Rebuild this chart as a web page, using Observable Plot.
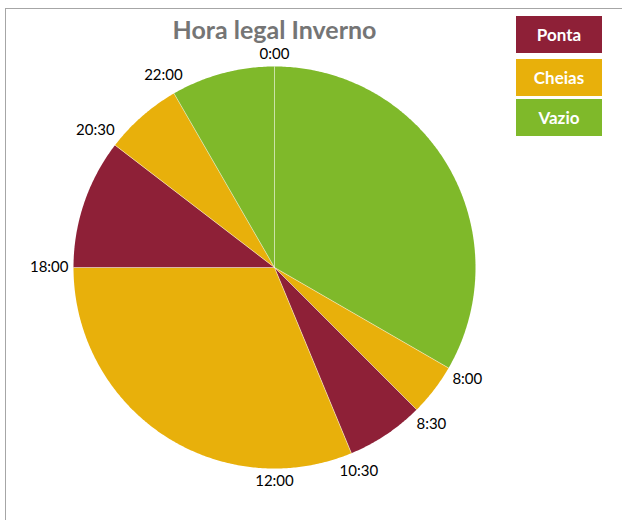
<!DOCTYPE html>
<html><head><meta charset="utf-8">
<script src="https://cdn.jsdelivr.net/npm/d3@7"></script>
<script src="https://cdn.jsdelivr.net/npm/@observablehq/plot@0.6"></script>
<style>
body{margin:0;background:#fff;}
#wrap{position:relative;width:622px;height:520px;overflow:hidden;font-family:Lato,"Open Sans",sans-serif;}
#wrap svg{position:absolute;left:0;top:0;}
.frameTop{position:absolute;left:5px;top:8px;width:617px;height:1px;background:#a6a6a6;}
.frameLeft{position:absolute;left:5px;top:8px;width:1px;height:512px;background:#a6a6a6;}
#title{position:absolute;left:0;width:549px;top:17px;line-height:25px;text-align:center;font-weight:bold;font-size:25px;color:#757575;white-space:nowrap;}
.leg{position:absolute;left:516px;width:86px;height:37px;line-height:37px;text-align:center;color:#fff;font-weight:bold;font-size:17px;}
</style>
</head><body>
<div id="wrap"><div class="frameTop"></div><div class="frameLeft"></div><div id="title">Hora legal Inverno</div></div>
<script>
const title = "Hora legal Inverno";
const categories = ["Ponta", "Cheias", "Vazio"];
const categoryColors = ["#8E2037", "#E8B00B", "#7FB92A"];
const sliceStart = [0, 8, 9, 10.5, 18, 20.5, 22];
const sliceEnd = [8, 9, 10.5, 18, 20.5, 22, 24];
const sliceCategory = ["Vazio", "Cheias", "Ponta", "Cheias", "Ponta", "Cheias", "Vazio"];
const tickHours = [0, 8, 9, 10.5, 12, 18, 20.5, 22];
const tickLabels = ["0:00", "8:00", "8:30", "10:30", "12:00", "18:00", "20:30", "22:00"];

const W = 622, H = 520, R = 201, cx = 274, cy = 267;
const FONT = "Lato, 'Open Sans', sans-serif";
const colorOf = c => categoryColors[categories.indexOf(c)];
const ang = h => h / 24 * 2 * Math.PI;

// slice polygons (center + arc)
const marks = [];
sliceStart.forEach((s, i) => {
  const e = sliceEnd[i];
  const pts = [{x: 0, y: 0}];
  const n = Math.max(2, Math.ceil((e - s) * 30));
  for (let k = 0; k <= n; k++) {
    const t = ang(s + (e - s) * k / n);
    pts.push({x: Math.sin(t), y: Math.cos(t)});
  }
  marks.push(Plot.line(pts, {x: "x", y: "y", curve: "linear-closed", fill: colorOf(sliceCategory[i]), stroke: "none"}));
});
// slice separators
const seps = sliceStart.map(s => ({x: Math.sin(ang(s)), y: Math.cos(ang(s))}));
marks.push(Plot.link(seps, {x1: () => 0, y1: () => 0, x2: "x", y2: "y", stroke: "#fff", strokeOpacity: 0.45, strokeWidth: 1}));

// labels
const ctx = document.createElement("canvas").getContext("2d");
ctx.font = "15px " + FONT;
const labels = tickHours.map((h, i) => {
  const t = ang(h);
  const w = ctx.measureText(tickLabels[i]).width;
  const d = (R + 5 + (w / 2) * Math.abs(Math.sin(t)) + 7.5 * Math.abs(Math.cos(t))) / R;
  return {x: d * Math.sin(t), y: d * Math.cos(t), text: tickLabels[i]};
});
marks.push(Plot.text(labels, {x: "x", y: "y", text: "text", fontSize: 15, fill: "#000", fontFamily: FONT, textAnchor: "middle"}));

const chart = Plot.plot({
  width: W, height: H,
  marginTop: 0, marginBottom: 0, marginLeft: 0, marginRight: 0,
  x: {domain: [-cx / R, (W - cx) / R], axis: null},
  y: {domain: [-(H - cy) / R, cy / R], axis: null},
  style: {background: "transparent", fontFamily: FONT},
  marks
});
const wrap = document.getElementById("wrap");
wrap.insertBefore(chart, wrap.firstChild);
document.getElementById("title").textContent = title;

const legTops = [16, 59, 99];
categories.forEach((c, i) => {
  const d = document.createElement("div");
  d.className = "leg";
  d.style.top = legTops[i] + "px";
  d.style.background = categoryColors[i];
  d.textContent = c;
  wrap.appendChild(d);
});
</script>
</body></html>
